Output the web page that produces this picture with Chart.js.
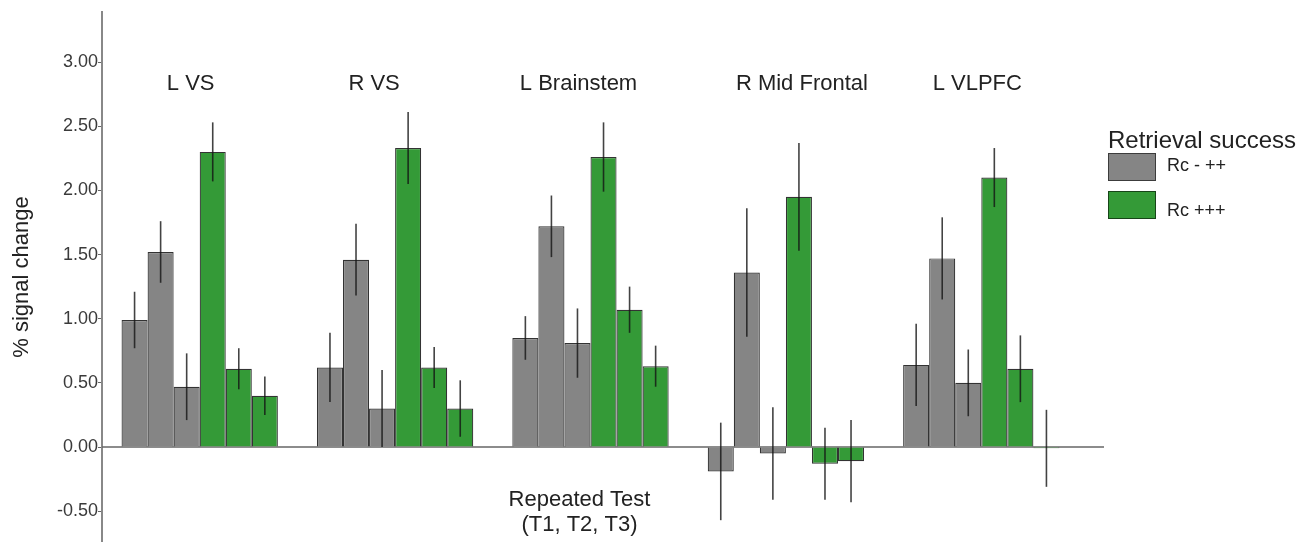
<!DOCTYPE html>
<html>
<head>
<meta charset="utf-8">
<script src="https://cdn.jsdelivr.net/npm/chart.js@4.4.0/dist/chart.umd.min.js"></script>
<style>
  body { margin: 0; background: #fff; font-family: "Liberation Sans", Arial, sans-serif; }
  #wrap { position: relative; width: 1296px; height: 542px; overflow: hidden; }
  #legend div, #legend span { position: absolute; white-space: nowrap; color: #222; line-height: 1.15; }
  .box { left: 1108px; width: 46px; height: 26px; border: 1px solid rgba(0,0,0,0.55); }
  .lab { left: 1167px; font-size: 18px; }
</style>
</head>
<body>
<div id="wrap">
  <canvas id="myChart" width="1296" height="542"></canvas>
  <div id="legend">
    <div style="left:1108px; top:126px; font-size:24px;">Retrieval success</div>
    <div class="box" style="background:#858585; top:153px;"></div>
    <span class="lab" style="top:155px;">Rc - ++</span>
    <div class="box" style="background:#349a37; top:191px;"></div>
    <span class="lab" style="top:200px;">Rc +++</span>
  </div>
</div>
<script>
// regions (groups)
var regions = ['L VS', 'R VS', 'L Brainstem', 'R Mid Frontal', 'L VLPFC'];
var yTicks = [-0.5, 0, 0.5, 1, 1.5, 2, 2.5, 3];

// Rc - ++ (gray), repeated tests T1, T2, T3
var lowT1 = [0.99, 0.62, 0.85, -0.19, 0.64];
var lowT2 = [1.52, 1.46, 1.72, 1.36, 1.47];
var lowT3 = [0.47, 0.30, 0.81, -0.05, 0.50];
// Rc +++ (green)
var highT1 = [2.30, 2.33, 2.26, 1.95, 2.10];
var highT2 = [0.61, 0.62, 1.07, -0.13, 0.61];
var highT3 = [0.40, 0.30, 0.63, -0.11, -0.01];

// error bar half widths
var lowT1Err = [0.22, 0.27, 0.17, 0.38, 0.32];
var lowT2Err = [0.24, 0.28, 0.24, 0.50, 0.32];
var lowT3Err = [0.26, 0.30, 0.27, 0.36, 0.26];
var highT1Err = [0.23, 0.28, 0.27, 0.42, 0.23];
var highT2Err = [0.16, 0.16, 0.18, 0.28, 0.26];
var highT3Err = [0.15, 0.22, 0.16, 0.32, 0.30];

var gray = '#858585';
var green = '#349a37';
var fontFam = '"Liberation Sans", Arial, sans-serif';

function makeSet(label, data, err, color) {
    return {
        label: label,
        data: data,
        err: err,
        backgroundColor: color,
        borderColor: '#333',
        borderWidth: 1.2,
        inflateAmount: 0,
        categoryPercentage: 0.8,
        barPercentage: 1.0
    };
}

var errorBars = {
    id: 'errorBars',
    beforeDatasetsDraw: function (chart) {
        // zero line
        var ctx = chart.ctx;
        var y0 = chart.scales.y.getPixelForValue(0);
        ctx.save();
        ctx.strokeStyle = '#666';
        ctx.lineWidth = 1.5;
        ctx.beginPath();
        ctx.moveTo(chart.chartArea.left, y0);
        ctx.lineTo(chart.chartArea.right + 25, y0);
        ctx.stroke();
        ctx.restore();
    },
    afterDatasetsDraw: function (chart) {
        var ctx = chart.ctx;
        var ys = chart.scales.y;
        ctx.save();
        ctx.strokeStyle = 'rgba(20,20,20,0.8)';
        ctx.lineWidth = 1.6;
        chart.data.datasets.forEach(function (ds, i) {
            var meta = chart.getDatasetMeta(i);
            meta.data.forEach(function (bar, j) {
                var v = ds.data[j], e = ds.err[j];
                ctx.beginPath();
                ctx.moveTo(bar.x, ys.getPixelForValue(v + e));
                ctx.lineTo(bar.x, ys.getPixelForValue(v - e));
                ctx.stroke();
            });
        });
        ctx.restore();
    },
    afterDraw: function (chart) {
        var ctx = chart.ctx;
        var xs = chart.scales.x, ys = chart.scales.y;
        var shift = [-9, -21, -12, 16, -4];
        ctx.save();
        ctx.fillStyle = '#222';
        ctx.textAlign = 'center';
        ctx.textBaseline = 'middle';
        ctx.font = '22px ' + fontFam;
        regions.forEach(function (r, i) {
            ctx.fillText(r, xs.getPixelForValue(i) + shift[i], ys.getPixelForValue(2.83));
        });
        var cx = xs.getPixelForValue(2) - 11;
        ctx.fillText('Repeated Test', cx, ys.getPixelForValue(-0.41));
        ctx.fillText('(T1, T2, T3)', cx, ys.getPixelForValue(-0.61));
        ctx.restore();
    }
};

var config = {
    type: 'bar',
    data: {
        labels: regions,
        datasets: [
            makeSet('Rc - ++ T1', lowT1, lowT1Err, gray),
            makeSet('Rc - ++ T2', lowT2, lowT2Err, gray),
            makeSet('Rc - ++ T3', lowT3, lowT3Err, gray),
            makeSet('Rc +++ T1', highT1, highT1Err, green),
            makeSet('Rc +++ T2', highT2, highT2Err, green),
            makeSet('Rc +++ T3', highT3, highT3Err, green)
        ]
    },
    options: {
        responsive: false,
        animation: false,
        layout: { padding: { top: 12, right: 217, bottom: 0, left: 0 } },
        plugins: { legend: { display: false }, tooltip: { enabled: false } },
        scales: {
            x: { display: false },
            y: {
                min: -0.74,
                max: 3.39,
                afterBuildTicks: function (scale) {
                    scale.ticks = yTicks.map(function (v) { return { value: v }; });
                },
                afterFit: function (scale) {
                    scale.width = 102;
                    scale.paddingTop = 0;
                    scale.paddingBottom = 0;
                },
                border: { display: true, color: '#888', width: 2 },
                grid: { drawOnChartArea: false, drawTicks: true, tickLength: 4, color: '#666' },
                ticks: {
                    padding: 0,
                    color: '#3a3a3a',
                    font: { size: 18, family: fontFam },
                    callback: function (v) { return v.toFixed(2); }
                },
                title: {
                    display: true,
                    text: '% signal change',
                    color: '#222',
                    padding: { top: 9, bottom: 0 },
                    font: { size: 22, family: fontFam }
                }
            }
        }
    },
    plugins: [errorBars]
};

var myChart = new Chart(document.getElementById('myChart'), config);
</script>
</body>
</html>
